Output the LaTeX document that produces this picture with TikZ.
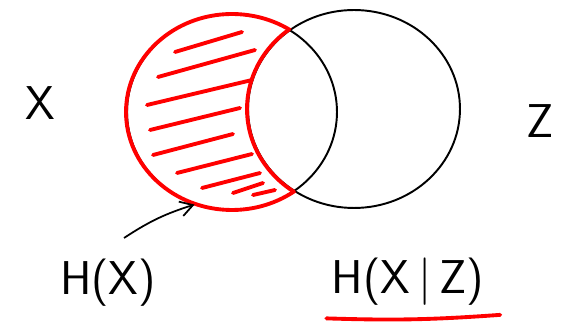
\documentclass[tikz,border=0pt]{standalone}
\usepackage{xcolor}
\usepackage{tikz}
\usetikzlibrary{arrows.meta,shapes.geometric}
\definecolor{inkblack}{HTML}{000000}
\definecolor{inkred}{HTML}{FF0000}

\begin{document}
\begin{tikzpicture}[
  x=0.02cm,
  y=-0.02cm,
  setcircle/.style={
    ellipse,
    draw=inkblack,
    line width=1.1pt,
    inner sep=0pt
  },
  redink/.style={
    draw=inkred,
    line width=2.2pt,
    line cap=round,
    line join=round
  },
  pointer/.style={
    -{Straight Barb[length=2.5mm,width=3mm]},
    draw=inkblack,
    line width=1pt
  },
  handtext/.style={
    font=\sffamily\fontsize{27}{30}\selectfont,
    text=inkblack,
    inner sep=1pt
  }
]
\useasboundingbox (0,0) rectangle (571,323);

% Circles
\node[setcircle, minimum width=4.2cm, minimum height=3.92cm] (setx) at (232,112) {};
\node[setcircle, minimum width=4.24cm, minimum height=3.96cm] (setz) at (354,109) {};

% Red outline of the X-only region
\begin{scope}[even odd rule]
  \clip (-50,-50) rectangle (650,400) (setz.center) ellipse [x radius=106, y radius=99];
  \draw[redink] (setx.center) ellipse [x radius=106, y radius=98];
\end{scope}
\begin{scope}
  \clip (setx.center) ellipse [x radius=106, y radius=98];
  \draw[redink] (setz.center) ellipse [x radius=107, y radius=100];
\end{scope}

% Hatching
\foreach \ax/\ay/\bx/\by in {175/52/242/32, 158/77/255/50, 147/105/252/80,
  150/130/240/108, 153/155/233/134, 177/173/252/154, 202/188/260/173,
  233/193/263/183, 253/195/275/190}
  \draw[redink] (\ax,\ay) -- (\bx,\by);

% Labels
\node[handtext] (labx) at (40,103) {X};
\node[handtext] (labz) at (540,121) {Z};
\node[handtext] (hx)   at (108,283) {H(X)};
\node[handtext] (hxz)  at (408,282) {H(X\,|\,Z)};

% Pointer to the left circle
\coordinate (hxtail) at (124,238);
\draw[pointer] (hxtail) to[bend left=8] (setx.248);

% Underline
\draw[redink] ([xshift=-2pt,yshift=-6pt]hxz.south west) to[bend right=3] ([xshift=8pt,yshift=-4pt]hxz.south east);

\end{tikzpicture}
\end{document}
